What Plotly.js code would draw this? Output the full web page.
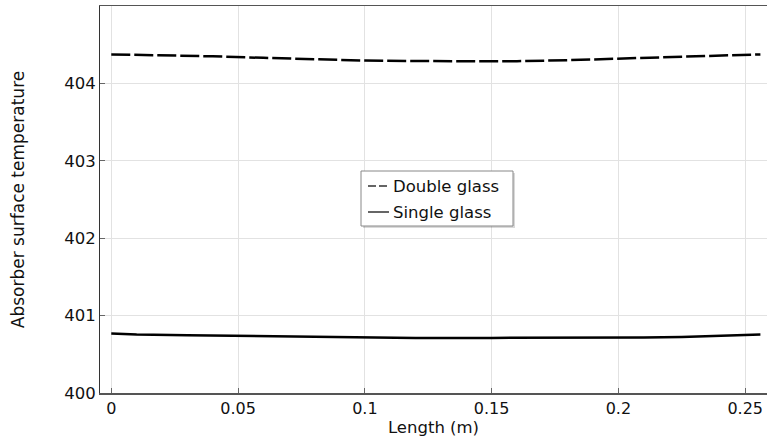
<!DOCTYPE html>
<html>
<head>
<meta charset="utf-8">
<script src="https://cdn.plot.ly/plotly-3.0.1.min.js"></script>
<style>html,body{margin:0;padding:0;background:#fff;}#chart{width:767px;height:441px;}</style>
</head>
<body>
<div id="chart"></div>
<script>
var lengthDouble = [0, 0.02, 0.04, 0.06, 0.08, 0.10, 0.12, 0.14, 0.16, 0.18, 0.20, 0.22, 0.24, 0.256];
var tempDouble   = [404.375, 404.365, 404.35, 404.33, 404.31, 404.295, 404.288, 404.285, 404.287, 404.30, 404.32, 404.34, 404.36, 404.375];
var lengthSingle = [0, 0.01, 0.03, 0.05, 0.07, 0.09, 0.12, 0.15, 0.18, 0.21, 0.225, 0.24, 0.256];
var tempSingle   = [400.768, 400.755, 400.746, 400.738, 400.725, 400.715, 400.712, 400.712, 400.713, 400.716, 400.725, 400.738, 400.755];
var xTicks = [0, 0.05, 0.1, 0.15, 0.2, 0.25];
var xTickLabels = ['0', '0.05', '0.1', '0.15', '0.2', '0.25'];
var yTicks = [400, 401, 402, 403, 404];
var seriesNames = ['Double glass', 'Single glass'];

var font = 'DejaVu Sans, Verdana, sans-serif';
var W = 767, H = 441, ML = 100, MR = 0, MT = 6, MB = 48;
var PW = W - ML - MR, PH = H - MT - MB;
function px(x) { return (x - ML) / PW; }
function py(y) { return (H - MB - y) / PH; }

var traces = [
  {x: lengthDouble, y: tempDouble, name: seriesNames[0], mode: 'lines', type: 'scatter',
   line: {color: '#000', width: 2.5, dash: '19px,4px'}},
  {x: lengthSingle, y: tempSingle, name: seriesNames[1], mode: 'lines', type: 'scatter',
   line: {color: '#000', width: 2.5}}
];

// hand-built legend box (to match the reference's compact legend)
var lg = {x0: 361, x1: 513, y0: 171, y1: 226, rows: [186, 212], lx0: 368, lx1: 389, tx: 393};
var shapes = [
  {type: 'rect', xref: 'paper', yref: 'paper', x0: px(lg.x0 + 2), x1: px(lg.x1 + 2), y0: py(lg.y1 + 2), y1: py(lg.y0 + 2),
   fillcolor: 'rgba(0,0,0,0.15)', line: {width: 0}, layer: 'above'},
  {type: 'rect', xref: 'paper', yref: 'paper', x0: px(lg.x0), x1: px(lg.x1), y0: py(lg.y1), y1: py(lg.y0),
   fillcolor: '#fff', line: {color: '#888', width: 1}, layer: 'above'},
  {type: 'line', xref: 'paper', yref: 'paper', x0: px(lg.lx0), x1: px(lg.lx1), y0: py(lg.rows[0]), y1: py(lg.rows[0]),
   line: {color: '#333', width: 1.5, dash: '8px,3px'}, layer: 'above'},
  {type: 'line', xref: 'paper', yref: 'paper', x0: px(lg.lx0), x1: px(lg.lx1), y0: py(lg.rows[1]), y1: py(lg.rows[1]),
   line: {color: '#333', width: 1.5}, layer: 'above'}
];
var annotations = seriesNames.map(function (n, i) {
  return {text: n, xref: 'paper', yref: 'paper', x: px(lg.tx), y: py(lg.rows[i]), xanchor: 'left', yanchor: 'middle',
          showarrow: false, font: {family: font, size: 16.5, color: '#111'}, xshift: -2};
});

var layout = {
  width: W, height: H,
  margin: {l: ML, r: MR, t: MT, b: MB, pad: 0},
  paper_bgcolor: '#fff', plot_bgcolor: '#fff',
  font: {family: font, size: 16, color: '#111'},
  showlegend: false,
  xaxis: {range: [-0.00445, 0.2586], tickvals: xTicks, ticktext: xTickLabels,
          ticks: 'inside', ticklen: 5, tickcolor: '#666',
          showline: true, linecolor: '#555', linewidth: 1.5, mirror: true,
          showgrid: true, gridcolor: '#e2e2e2', gridwidth: 1, zeroline: false,
          tickfont: {family: font, size: 16, color: '#111'},
          title: {text: 'Length (m)', font: {family: font, size: 16.5, color: '#111'}, standoff: 2}},
  yaxis: {range: [400, 405], tickvals: yTicks, ticks: 'inside', ticklen: 5, tickcolor: '#666',
          showline: true, linecolor: '#333', linewidth: 1, mirror: false,
          showgrid: true, gridcolor: '#e2e2e2', gridwidth: 1, zeroline: false,
          tickfont: {family: font, size: 16.5, color: '#111'},
          title: {text: 'Absorber surface temperature', font: {family: font, size: 17, color: '#111'}, standoff: 35}},
  shapes: shapes,
  annotations: annotations
};
Plotly.newPlot('chart', traces, layout, {staticPlot: true, displayModeBar: false});
</script>
</body>
</html>
